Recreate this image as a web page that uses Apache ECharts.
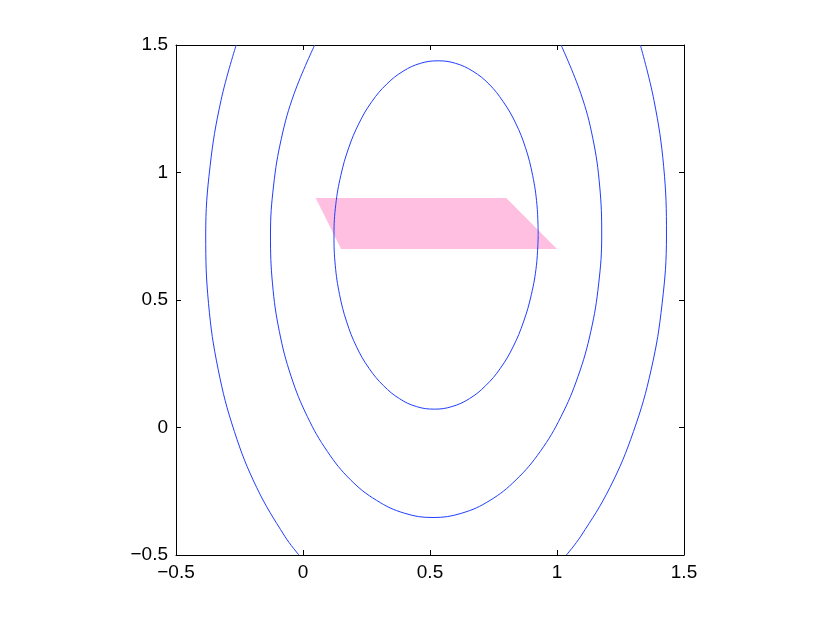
<!DOCTYPE html>
<html>
<head>
<meta charset="utf-8">
<script src="https://cdn.jsdelivr.net/npm/echarts@6/dist/echarts.min.js"></script>
<style>
    html, body { margin: 0; padding: 0; background: #fff; }
    #contour { width: 830px; height: 624px; }
</style>
</head>
<body>
<div id="contour"></div>
<script>
    // contour lines, [x, y]
    var innerRing = [
        [0.926, 0.755], [0.921, 0.874], [0.904, 0.989], [0.876, 1.097], [0.837, 1.194],
        [0.788, 1.278], [0.732, 1.347], [0.669, 1.397], [0.601, 1.428], [0.532, 1.438],
        [0.462, 1.428], [0.394, 1.397], [0.330, 1.347], [0.271, 1.278], [0.221, 1.194],
        [0.180, 1.097], [0.149, 0.989], [0.129, 0.874], [0.122, 0.755], [0.127, 0.636],
        [0.144, 0.521], [0.172, 0.414], [0.211, 0.316], [0.260, 0.232], [0.317, 0.164],
        [0.380, 0.113], [0.447, 0.082], [0.517, 0.072], [0.586, 0.082], [0.655, 0.113],
        [0.719, 0.164], [0.777, 0.232], [0.827, 0.316], [0.868, 0.414], [0.899, 0.521],
        [0.919, 0.636], [0.926, 0.755]
    ];
    var middleRing = [
        [1.016, 1.5], [1.094, 1.309], [1.141, 1.134], [1.168, 0.947], [1.176, 0.755],
        [1.164, 0.563], [1.133, 0.376], [1.083, 0.201], [1.016, 0.043], [0.934, -0.094],
        [0.839, -0.205], [0.736, -0.286], [0.625, -0.336], [0.512, -0.353], [0.399, -0.336],
        [0.290, -0.286], [0.187, -0.205], [0.096, -0.094], [0.017, 0.043], [-0.047, 0.201],
        [-0.093, 0.376], [-0.120, 0.563], [-0.128, 0.755], [-0.116, 0.947], [-0.085, 1.134],
        [-0.035, 1.309], [0.046, 1.5]
    ];
    var outerRight = [
        [1.328, 1.5], [1.382, 1.282], [1.420, 1.023], [1.431, 0.755], [1.414, 0.487],
        [1.371, 0.228], [1.301, -0.016], [1.208, -0.236], [1.094, -0.426], [1.037, -0.5]
    ];
    var outerLeft = [
        [-0.263, 1.5], [-0.323, 1.282], [-0.366, 1.023], [-0.383, 0.755], [-0.372, 0.487],
        [-0.334, 0.228], [-0.270, -0.016], [-0.182, -0.236], [-0.072, -0.426], [-0.016, -0.5]
    ];
    // pink patch corners
    var patchX = [0.05, 0.8, 1.0, 0.15];
    var patchY = [0.9, 0.9, 0.7, 0.7];

    var axisMin = -0.5;
    var axisMax = 1.5;
    var tickStep = 0.5;

    var lineColor = '#1f3dff';
    var labelFont = {color: '#000', fontFamily: '"Liberation Sans", Arial, sans-serif', fontSize: 19};

    function tickText(v) {
        return String(v).replace('-', '\u2212');
    }

    function makeAxis(pos, showLabel) {
        return {
            type: 'value',
            position: pos,
            min: axisMin,
            max: axisMax,
            interval: tickStep,
            axisLine: {show: true, onZero: false, lineStyle: {color: '#000', width: 1}},
            axisTick: {show: true, inside: true, length: 5, lineStyle: {color: '#000', width: 1}},
            axisLabel: Object.assign({show: showLabel, margin: 8, formatter: tickText}, labelFont),
            splitLine: {show: false}
        };
    }

    function curve(name, pts) {
        return {
            name: name,
            type: 'line',
            data: pts,
            showSymbol: false,
            smooth: 0.4,
            z: 3,
            lineStyle: {color: lineColor, width: 1}
        };
    }

    var patchPts = patchX.map(function (x, i) { return [x, patchY[i]]; });

    var options = {
        animation: false,
        backgroundColor: '#fff',
        grid: {left: 176, right: 146, top: 45, bottom: 69},
        xAxis: [makeAxis('bottom', true), makeAxis('top', false)],
        yAxis: [makeAxis('left', true), makeAxis('right', false)],
        series: [
            {
                type: 'custom',
                z: 1,
                data: patchPts,
                encode: {x: 0, y: 1},
                renderItem: function (params, api) {
                    if (params.dataIndex !== 0) return;
                    var pts = patchPts.map(function (p) { return api.coord(p); });
                    return {type: 'polygon', shape: {points: pts}, style: {fill: '#ffbfe0'}};
                }
            },
            curve('inner', innerRing),
            curve('middle', middleRing),
            curve('outerRight', outerRight),
            curve('outerLeft', outerLeft)
        ]
    };

    var chart = echarts.init(document.getElementById('contour'));
    chart.setOption(options);
</script>
</body>
</html>
